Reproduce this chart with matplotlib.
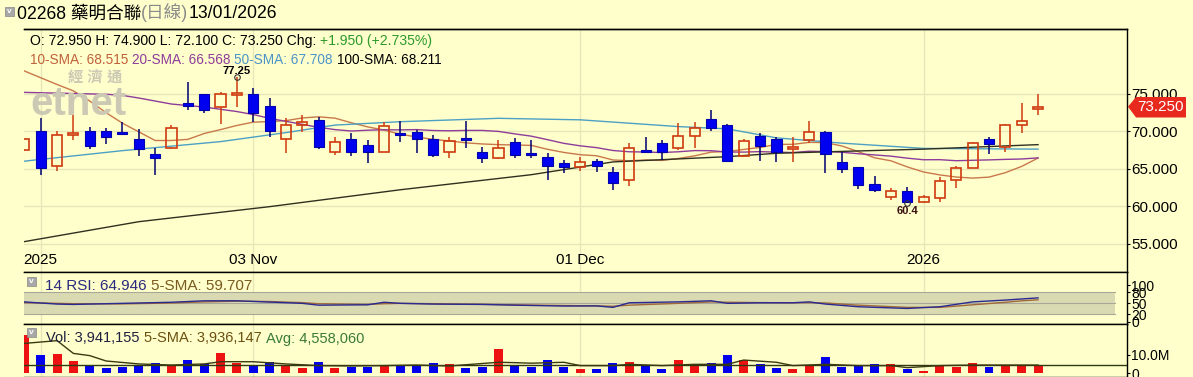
import matplotlib.pyplot as plt
from matplotlib.patches import Rectangle, Polygon

plt.rcParams['font.family'] = ['Liberation Sans', 'Noto Sans CJK TC', 'DejaVu Sans']

W, H = 1193, 377
BG = '#FFFFCC'

# ---- values; day 0 = first full candle, day -1 = clipped one ----
days = list(range(-1, 62))
opens = [67.5, 70.0, 65.3, 69.45, 70.05, 70.0, 69.9, 68.95, 66.9, 67.7,
         73.8, 74.9, 73.25, 74.8, 74.95, 73.35, 68.9, 70.8, 71.5, 67.25,
         68.9, 68.1, 67.25, 69.7, 69.9, 68.9, 67.25, 69.05, 67.25, 66.4,
         68.6, 67.05, 66.5, 65.7, 65.25, 66.05, 64.6, 63.5, 67.5, 68.45,
         67.8, 69.4, 71.6, 70.8, 66.7, 69.35, 69.0, 67.6, 68.8, 69.9,
         65.95, 65.2, 62.95, 61.3, 62.05, 60.55, 61.05, 63.5, 65.05, 68.95,
         67.85, 70.75, 72.95]
highs = [69.0, 71.7, 70.0, 72.15, 70.6, 70.4, 71.25, 70.3, 67.7, 70.8,
         76.55, 75.0, 75.15, 77.25, 75.7, 74.35, 71.7, 72.15, 71.85, 69.25,
         69.7, 68.8, 71.25, 71.35, 70.15, 69.5, 69.15, 71.4, 67.95, 68.8,
         69.05, 68.8, 67.05, 66.15, 66.6, 66.25, 65.25, 68.4, 69.25, 68.8,
         71.05, 71.25, 72.8, 70.95, 68.9, 69.7, 69.25, 69.25, 71.4, 70.05,
         67.25, 65.25, 64.05, 62.4, 62.6, 61.5, 63.95, 65.35, 68.6, 69.25,
         70.9, 73.7, 74.9]
lows = [67.4, 64.2, 64.7, 68.8, 67.6, 68.25, 69.6, 66.75, 64.15, 67.6,
        72.8, 72.35, 70.95, 73.25, 71.25, 69.25, 67.05, 69.9, 67.6, 66.8,
        66.7, 65.7, 67.25, 68.6, 67.05, 66.6, 66.4, 67.7, 65.7, 66.25,
        66.4, 66.4, 63.5, 64.4, 64.75, 64.6, 62.15, 62.7, 67.25, 66.15,
        67.5, 67.7, 70.0, 66.05, 66.6, 66.05, 65.95, 65.95, 68.4, 64.4,
        64.4, 62.25, 61.95, 60.85, 60.4, 60.45, 60.6, 62.4, 65.05, 66.95,
        67.25, 69.8, 72.1]
closes = [68.95, 65.05, 69.45, 69.8, 68.05, 69.25, 69.65, 67.65, 66.45, 70.35,
          73.35, 72.8, 74.9, 75.05, 72.45, 70.05, 70.8, 71.25, 67.95, 68.6,
          67.25, 67.25, 70.7, 69.45, 68.9, 66.8, 68.7, 68.8, 66.4, 67.7,
          66.8, 66.8, 65.4, 65.25, 65.95, 65.35, 63.15, 67.8, 67.25, 67.2,
          69.4, 70.35, 70.35, 66.05, 68.7, 68.0, 67.2, 67.85, 69.85, 66.95,
          64.9, 62.85, 62.15, 62.05, 60.55, 61.2, 63.35, 65.05, 68.4, 68.25,
          70.8, 71.3, 73.25]
volumes_m = [20.5, 9.7, 10.3, 6.7, 4.3, 2.9, 3.4, 4.3, 5.2, 4.3,
             7.0, 4.7, 11.0, 5.6, 4.0, 5.8, 4.3, 2.9, 6.1, 2.9,
             3.2, 3.2, 4.0, 4.0, 4.3, 5.6, 4.9, 2.9, 3.4, 13.0,
             4.3, 3.1, 7.0, 3.1, 2.2, 2.2, 5.2, 5.8, 4.0, 2.2,
             7.0, 4.0, 5.2, 9.7, 7.0, 4.9, 2.9, 2.2, 4.3, 8.8,
             3.1, 4.0, 4.7, 4.7, 2.2, 1.1, 4.3, 3.4, 5.6, 3.1,
             4.3, 4.3, 3.94]

sma10 = [78.0, 77.1, 76.2, 75.35, 74.0, 72.45, 71.05, 69.9, 68.75, 68.75,
         68.9, 69.68, 70.2, 70.75, 71.19, 71.27, 71.39, 71.75, 71.9, 71.72,
         71.11, 70.56, 70.14, 69.58, 69.22, 68.9, 68.69, 68.44, 68.29, 68.2,
         68.15, 68.1, 67.58, 67.16, 66.86, 66.72, 66.16, 66.06, 66.15, 66.1,
         66.36, 66.71, 67.2, 67.29, 67.56, 67.83, 68.23, 68.24, 68.5, 68.47,
         68.02, 67.27, 66.45, 66.05, 65.24, 64.56, 64.17, 63.89, 63.75, 63.88,
         64.47, 65.31, 66.42]
sma20 = [75.15, 75.1, 75.05, 75.0, 74.95, 74.9, 74.75, 74.4, 74.0, 73.6,
         73.4, 73.2, 72.9, 72.6, 72.2, 71.7, 71.3, 70.9, 70.5, 70.2,
         70.01, 70.12, 70.18, 70.16, 70.2, 70.08, 70.04, 70.09, 70.09, 69.96,
         69.63, 69.33, 68.86, 68.37, 68.04, 67.8, 67.42, 67.25, 67.22, 67.15,
         67.25, 67.41, 67.39, 67.22, 67.21, 67.27, 67.2, 67.15, 67.32, 67.28,
         67.19, 66.99, 66.83, 66.67, 66.4, 66.19, 66.2, 66.06, 66.12, 66.17,
         66.24, 66.29, 66.44]
sma50_days = [-1, 5, 8, 11, 15, 18, 22, 28, 33, 39, 42, 45, 49, 54, 61]
sma50 = [66.0, 67.4, 68.0, 68.6, 69.8, 70.8, 71.25, 71.7, 71.5, 70.6, 70.3, 69.1, 68.4, 67.7, 67.6]
sma100_days = [-1, 6, 14, 22, 30, 35, 42, 45, 49, 54, 61]
sma100 = [55.3, 57.95, 59.95, 62.2, 64.2, 65.9, 66.6, 67.05, 67.3, 67.6, 68.2]

rsi_days = [-1, 1, 2, 5, 8, 10, 12, 14, 16, 17, 20, 21, 22, 24, 27, 29, 32,
            34, 35, 36, 39, 41, 42, 44, 46, 47, 48, 50, 53, 55, 57, 59, 60, 61]
rsi = [54, 48, 47, 50, 53, 57, 57, 53.5, 50, 45, 46, 53, 50, 48, 47, 45, 42.6,
       43, 39, 51.6, 54, 57, 50, 51.6, 51.6, 54, 48, 40.7, 36, 40.7, 54, 59, 62, 65]
rsi_sma = [52, 50, 49, 48.5, 51, 54, 56, 55, 52, 49, 47, 49, 50, 49, 47.5, 46, 44,
           43, 42, 45, 50, 54, 53, 52, 51.5, 52, 51, 45, 39, 39, 46, 53, 57, 59.7]

vsma_days = [-1, 1, 2, 3, 4, 6, 8, 10, 11, 13, 15, 17, 19, 21, 23, 25, 28, 29, 30,
             32, 33, 35, 36, 38, 40, 42, 43, 45, 46, 48, 50, 52, 53, 55, 57, 59, 61]
vsma = [16.0, 17.5, 10.6, 9.4, 6.5, 4.9, 4.3, 4.9, 6.1, 6.1, 4.9, 4.0, 3.8, 4.0,
        4.3, 3.8, 5.8, 5.6, 5.3, 5.8, 4.0, 4.0, 4.7, 4.0, 4.7, 4.7, 7.0, 5.8, 4.0,
        4.7, 4.0, 4.0, 2.9, 4.0, 4.3, 4.3, 4.3]
vol_avg = 4.558

date_days = [0, 13, 33, 54]
date_labels = ['2025', '03 Nov', '01 Dec', '2026']
price_ticks = [55, 60, 65, 70, 75]
last_price = 73.25

XL = (-1.02, 66.44)
GRID = '#E6E6B8'


def fx(px):
    return px / W


def fy(py):
    return 1 - py / H


fig = plt.figure(figsize=(W / 100, H / 100), dpi=100, facecolor=BG)
rend = fig.canvas.get_renderer()

ax = fig.add_axes([fx(24), fy(272), fx(1127) - fx(24), fy(29) - fy(272)], facecolor=BG)
ax_rsi = fig.add_axes([fx(24), fy(324), fx(1127) - fx(24), fy(272) - fy(324)], facecolor=BG)
ax_vol = fig.add_axes([fx(24), 0, fx(1127) - fx(24), fy(324)], facecolor=BG)

for a in (ax, ax_rsi, ax_vol):
    a.set_xlim(*XL)
    a.spines['left'].set_visible(False)
    for s in ('top', 'right', 'bottom'):
        a.spines[s].set_color('black')
        a.spines[s].set_linewidth(1)
    a.set_xticks([])
    a.yaxis.tick_right()
    a.tick_params(axis='y', length=2, labelsize=11, pad=1, colors='black')
    for d in date_days:
        a.axvline(d, color=GRID, lw=1, zorder=0)

# ---- price panel ----
ax.set_ylim(51.26, 83.58)
ax.set_yticks(price_ticks)
ax.set_yticklabels([f'{v:.3f}' for v in price_ticks])
for p in price_ticks:
    ax.axhline(p, color=GRID, lw=1, zorder=0)

bw = 0.62
for d, o, h, l, c in zip(days, opens, highs, lows, closes):
    lo_b, hi_b = min(o, c), max(o, c)
    if c >= o:
        col = '#D03A10'
        ax.add_patch(Rectangle((d - bw / 2, lo_b), bw, max(hi_b - lo_b, 0.08),
                               facecolor='none', edgecolor=col, lw=1.2, zorder=3))
    else:
        col = '#000070'
        ax.add_patch(Rectangle((d - bw / 2, lo_b), bw, max(hi_b - lo_b, 0.08),
                               facecolor='#0000F0', edgecolor='#0000B0', lw=0.8, zorder=3))
    ax.vlines(d, hi_b, h, color=col, lw=1.1, zorder=3)
    ax.vlines(d, l, lo_b, color=col, lw=1.1, zorder=3)

ax.plot(days, sma10, color='#C8784A', lw=1, zorder=2)
ax.plot(days, sma20, color='#8E3C9A', lw=1, zorder=2)
ax.plot(sma50_days, sma50, color='#4CA0C4', lw=1, zorder=2)
ax.plot(sma100_days, sma100, color='#303020', lw=1, zorder=2)

for d, lab in zip(date_days, date_labels):
    ax.text(d, 52.9, lab, ha='center', va='center', fontsize=11, color='black')

# high / low markers
hi_i = highs.index(max(highs))
lo_i = lows.index(min(lows))
ax.plot(days[hi_i], highs[hi_i], marker='o', ms=4, mfc='none', mec='#333333', mew=0.8, zorder=4)
ax.text(days[hi_i], highs[hi_i] + 0.75, f'{highs[hi_i]:g}', ha='center', va='center',
        fontsize=8, fontweight='bold', color='black')
ax.plot(days[lo_i], lows[lo_i], marker='o', ms=4, mfc='none', mec='#333333', mew=0.8, zorder=4)
ax.text(days[lo_i], lows[lo_i] - 1.0, f'{lows[lo_i]:g}', ha='center', va='center',
        fontsize=8, fontweight='bold', color='#3A1010')

# watermark
fig.text(fx(95), fy(77), '經 濟 通', ha='center', va='center', fontsize=11,
         color='#CBC8B4', fontweight='bold')
fig.text(fx(78), fy(104), 'etnet', ha='center', va='center', fontsize=29,
         color='#CBC8B4', fontweight='bold')

# last price tag
y_tag = fy(106.7)
ax.add_patch(Polygon([(fx(1128), y_tag), (fx(1136), fy(97)), (fx(1186), fy(97)),
                      (fx(1186), fy(117.5)), (fx(1136), fy(117.5))], closed=True,
                     transform=fig.transFigure, facecolor='#E82A1E', edgecolor='none',
                     clip_on=False, zorder=6))
fig.text(fx(1161), y_tag, f'{last_price:.3f}', ha='center', va='center', fontsize=11,
         color='white', zorder=7)

# ---- RSI panel ----
ax_rsi.set_ylim(-6.6, 135.9)
ax_rsi.set_yticks([0, 20, 50, 80, 100])
ax_rsi.tick_params(axis='y', labelsize=10, pad=1)
ax_rsi.fill_between([XL[0], 65.7], 20, 80, color='#DADAB2', lw=0, zorder=0)
for lv in (20, 50, 80):
    ax_rsi.plot([XL[0], 65.7], [lv, lv], color='#A8A89A', lw=0.8, zorder=1)
ax_rsi.plot(rsi_days, rsi_sma, color='#A06A3A', lw=1, zorder=2)
ax_rsi.plot(rsi_days, rsi, color='#2A2A90', lw=1, zorder=3)

# ---- volume panel ----
ax_vol.set_ylim(-2.16, 26.5)
ax_vol.set_yticks([0, 10])
ax_vol.set_yticklabels(['0', '10.0M'])
ax_vol.tick_params(axis='y', labelsize=10, pad=1)
vcols = ['#EE1111' if c >= o else '#0000EE' for o, c in zip(opens, closes)]
ax_vol.bar(days, volumes_m, width=0.55, color=vcols, zorder=2)
ax_vol.axhline(vol_avg, color='#2F3A10', lw=1, zorder=3)
ax_vol.plot(vsma_days, vsma, color='#3A3A10', lw=1, zorder=3)


# ---- header texts: pieces laid side by side on one baseline ----
def chain(x, y, parts, size):
    cur = x
    for s, c in parts:
        t = fig.text(fx(cur), fy(y), s, color=c, fontsize=size, ha='left', va='baseline')
        cur += t.get_window_extent(rend).width


chain(17, 18.5, [('02268 藥明合聯', 'black'), ('(日線)', '#8A8A8A'), ('13/01/2026', 'black')], 12.7)
chain(30, 44.5, [('O: 72.950 H: 74.900 L: 72.100 C: 73.250 Chg: ', 'black'),
                 ('+1.950 (+2.735%)', '#2E9A2E')], 10.1)
chain(30, 64.5, [('10-SMA: 68.515 ', '#C0603A'), ('20-SMA: 66.568 ', '#8E3C9A'),
                 ('50-SMA: 67.708 ', '#4C94C8'), ('100-SMA: 68.211', 'black')], 9.8)
chain(45, 289.5, [('14 RSI: 64.946 ', '#2A2A80'), ('5-SMA: 59.707', '#7A5A20')], 11)
chain(46, 342.5, [('Vol: 3,941,155 ', '#202040'), ('5-SMA: 3,936,147 ', '#6A5010'),
                  ('Avg: 4,558,060', '#3A7A3A')], 10.5)

# collapse boxes
for (x0, y0) in [(5, 7), (27, 277), (27, 328)]:
    fig.add_artist(Rectangle((fx(x0), fy(y0 + 9)), fx(9), 9 / H, transform=fig.transFigure,
                             facecolor='#A8A8A8', edgecolor='#888888', lw=0.5))
    fig.text(fx(x0 + 4.5), fy(y0 + 4.5), 'v', ha='center', va='center', fontsize=6,
             color='white', fontweight='bold')

# line under title
fig.add_artist(plt.Line2D([fx(24), fx(1127)], [fy(29), fy(29)], color='black', lw=1))

fig.savefig('out.png', dpi=100, facecolor=BG)
